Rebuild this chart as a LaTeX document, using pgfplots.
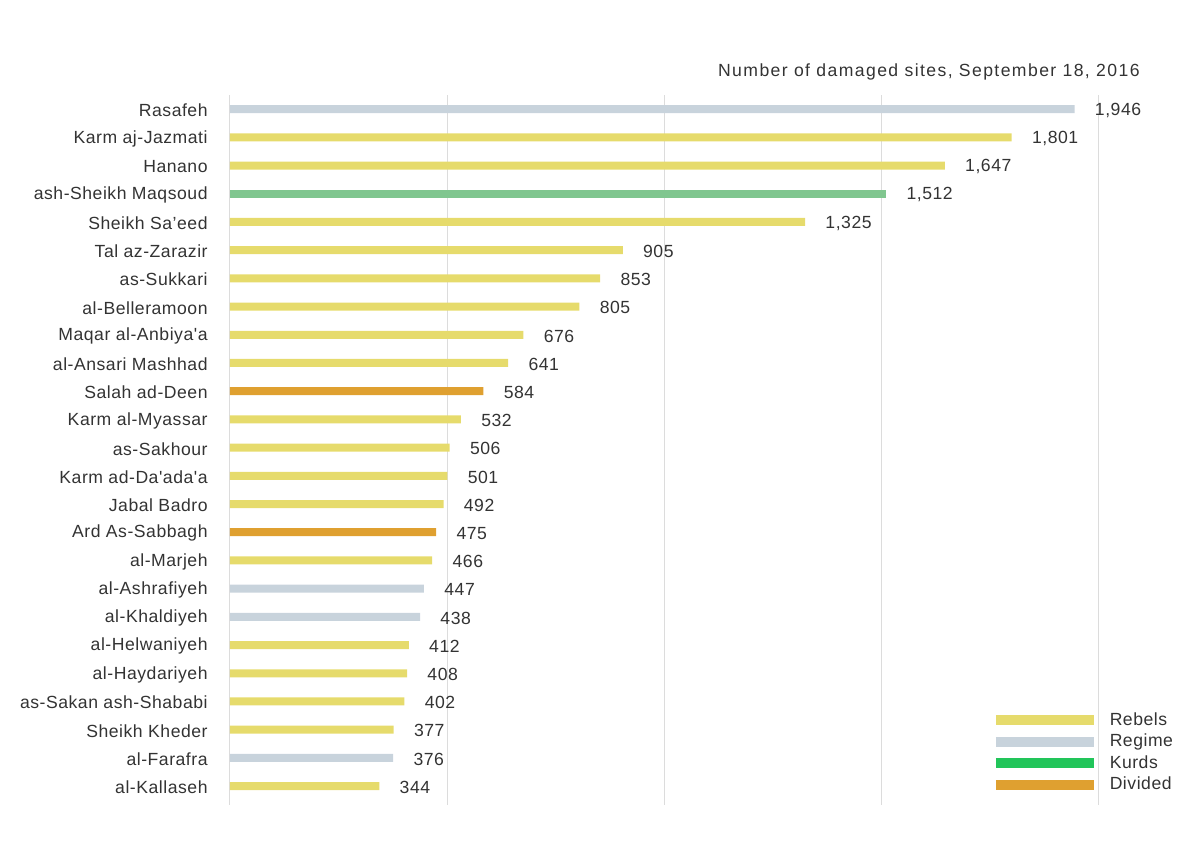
\documentclass[border=0pt]{standalone}
\usepackage{fontspec}
\setmainfont{Liberation Sans}[Ligatures=TeXOff, LetterSpace=3]
\usepackage{pgfplots}
\pgfplotsset{compat=1.18}

\definecolor{rebels}{HTML}{E6DB6C}
\definecolor{regime}{HTML}{C8D3DC}
\definecolor{kurdsbar}{HTML}{80C68F}
\definecolor{kurds}{HTML}{22C55A}
\definecolor{divided}{HTML}{DFA030}
\definecolor{txt}{HTML}{333333}
\definecolor{gridc}{HTML}{DCDCDC}

\newcommand{\lblfont}{\fontsize{8.8}{10}\selectfont}

\begin{document}
\begin{tikzpicture}
\path[use as bounding box] (0,0) rectangle (600pt,423.5pt);
\begin{axis}[
    at={(115pt,21pt)}, anchor=south west,
    scale only axis, width=434pt, height=355pt,
    xmin=0, xmax=2000,
    ymin=-0.5, ymax=24.67, y dir=reverse,
    xtick={0,500,...,2000}, xticklabels={},
    xmajorgrids, major grid style={gridc, line width=0.5pt},
    ytick={0,...,24},
    yticklabels={Rasafeh, Karm aj-Jazmati, Hanano, ash-Sheikh Maqsoud,
        Sheikh Sa’eed, Tal az-Zarazir, as-Sukkari, al-Belleramoon,
        Maqar al-Anbiya'a, al-Ansari Mashhad, Salah ad-Deen, Karm al-Myassar,
        as-Sakhour, Karm ad-Da'ada'a, Jabal Badro, Ard As-Sabbagh, al-Marjeh,
        al-Ashrafiyeh, al-Khaldiyeh, al-Helwaniyeh, al-Haydariyeh,
        as-Sakan ash-Shababi, Sheikh Kheder, al-Farafra, al-Kallaseh},
    axis line style={draw=none}, major tick length=0pt,
    yticklabel style={font=\lblfont, text=txt, inner sep=0pt, xshift=-11pt, yshift=-0.6pt},
    xbar, bar width=4pt, bar shift=0pt,
    nodes near coords,
    nodes near coords style={font=\lblfont, text=txt, anchor=west, inner sep=0pt, xshift=10pt, yshift=-0.6pt},
    point meta=x,
    /pgf/number format/1000 sep={,},
    /pgf/number format/assume math mode=true,
    clip=false,
    legend style={at={(0.876,0.131)}, anchor=north west, draw=none, fill=none,
        font=\lblfont, text=txt, inner sep=0pt, row sep=2.85pt,
        nodes={inner sep=0pt, anchor=west}, column sep=5.5pt},
    legend cell align=left,
]
% Rebels
\addplot[draw=none, fill=rebels, forget plot] coordinates {
    (1801,1) (1647,2) (1325,4) (905,5) (853,6) (805,7) (676,8) (641,9)
    (532,11) (506,12) (501,13) (492,14) (466,16) (412,19) (408,20)
    (402,21) (377,22) (344,24)
};
% Regime
\addplot[draw=none, fill=regime, forget plot] coordinates {
    (1946,0) (447,17) (438,18) (376,23)
};
% Kurds
\addplot[draw=none, fill=kurdsbar, forget plot] coordinates {
    (1512,3)
};
% Divided
\addplot[draw=none, fill=divided, forget plot] coordinates {
    (584,10) (475,15)
};
\addlegendimage{legend image code/.code={\draw[rebels, line width=5pt] (0pt,0pt) -- (49pt,0pt);}}
\addlegendentry{Rebels}
\addlegendimage{legend image code/.code={\draw[regime, line width=5pt] (0pt,0pt) -- (49pt,0pt);}}
\addlegendentry{Regime}
\addlegendimage{legend image code/.code={\draw[kurds, line width=5pt] (0pt,0pt) -- (49pt,0pt);}}
\addlegendentry{Kurds}
\addlegendimage{legend image code/.code={\draw[divided, line width=5pt] (0pt,0pt) -- (49pt,0pt);}}
\addlegendentry{Divided}
\end{axis}
\node[anchor=base east, inner sep=0pt, font=\lblfont\addfontfeatures{LetterSpace=8}, text=txt] at (570pt,385pt)
    {Number of damaged sites, September 18, 2016};
\end{tikzpicture}
\end{document}
